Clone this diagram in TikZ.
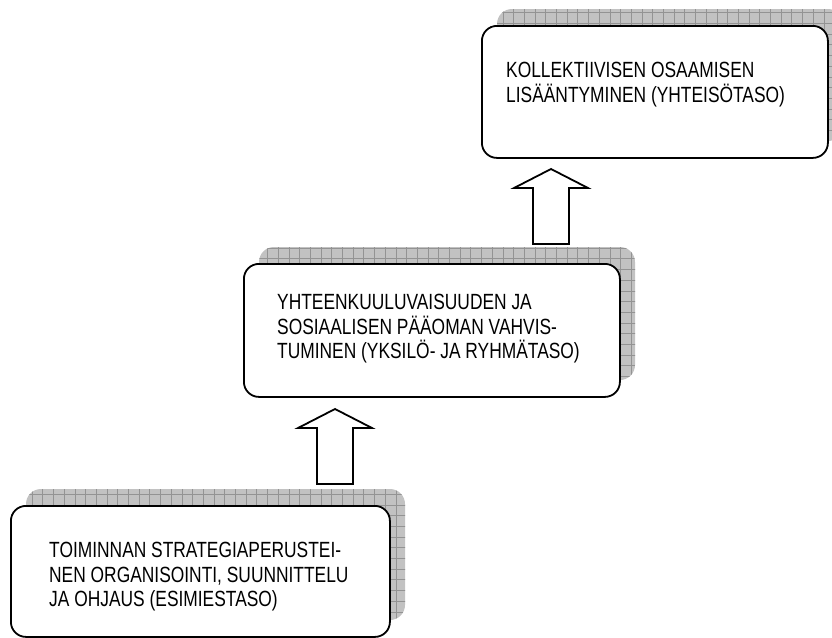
\documentclass[tikz,border=0pt]{standalone}
\usepackage{fontspec}
\setmainfont[FakeStretch=0.79]{Liberation Sans}
\tikzset{
  box/.style={draw=black, line width=1.8pt, rounded corners=15pt, fill=white,
    inner sep=0pt, anchor=north west},
  txt/.style={inner sep=0pt, anchor=north west, align=left,
    font=\fontsize{22}{24.5}\selectfont, text=black},
  blockarrow/.style={draw=black, line width=1.8pt, fill=white, line join=miter},
  shadowgrid/.style={draw=gray!85, line width=0.7pt},
}
\begin{document}
\begin{tikzpicture}[x=1pt,y=-1pt]
\clip (0,0) rectangle (832,637);
\fill[white] (0,0) rectangle (832,637);
% shadows
\begin{scope}
  \clip[rounded corners=15pt] (497,9) rectangle (843,141)
                              (259,247) rectangle (635,380)
                              (26,489) rectangle (405,620);
  \fill[gray!48] (0,0) rectangle (850,640);
  \foreach \gx in {0,10.7,...,850} \draw[shadowgrid] (\gx,0) -- (\gx,640);
  \foreach \gy in {2,12.7,...,640} \draw[shadowgrid] (0,\gy) -- (850,\gy);
\end{scope}
% boxes
\node[box, minimum width=346pt, minimum height=132pt] (top) at (481,25) {};
\node[box, minimum width=376pt, minimum height=133pt] (mid) at (243,263) {};
\node[box, minimum width=379pt, minimum height=131pt] (bot) at (10,505) {};
% texts
\node[txt] (toptxt) at (506,62) {KOLLEKTIIVISEN OSAAMISEN\\LISÄÄNTYMINEN (YHTEISÖTASO)};
\node[txt] (midtxt) at (277,294) {YHTEENKUULUVAISUUDEN JA\\SOSIAALISEN PÄÄOMAN VAHVIS-\\TUMINEN (YKSILÖ- JA RYHMÄTASO)};
\node[txt] (bottxt) at (49,542) {TOIMINNAN STRATEGIAPERUSTEI-\\NEN ORGANISOINTI, SUUNNITTELU\\JA OHJAUS (ESIMIESTASO)};
% block arrows
\draw[blockarrow] (317,484) -- (317,428) -- (298,428) -- (335,409) -- (372,428)
  -- (353,428) -- (353,484) -- cycle;
\draw[blockarrow] (533,244) -- (533,188) -- (514,188) -- (551,169) -- (588,188)
  -- (569,188) -- (569,244) -- cycle;
\end{tikzpicture}
\end{document}
